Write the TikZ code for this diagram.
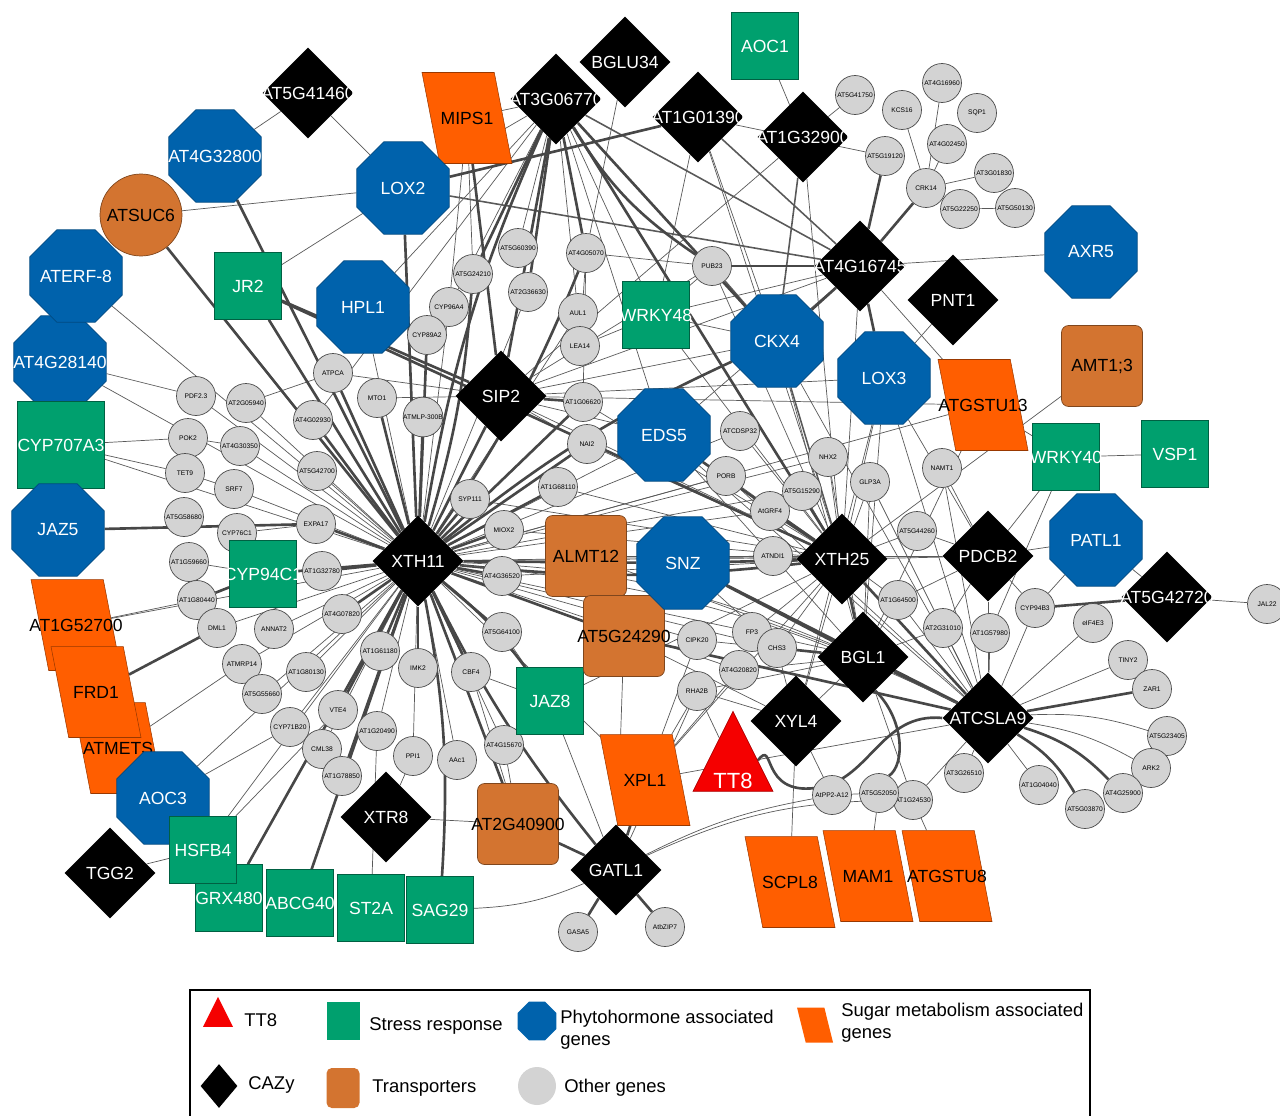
\documentclass[tikz,border=0pt]{standalone}
\usepackage{fontspec}
\setmainfont{Liberation Sans}
\usepackage{xcolor}
\usepackage{tikz}
\usetikzlibrary{shapes.geometric,backgrounds}
\definecolor{hormblue}{RGB}{0,98,172}
\definecolor{stressgreen}{RGB}{0,160,110}
\definecolor{transbrown}{RGB}{211,116,48}
\definecolor{sugarorange}{RGB}{255,94,0}
\definecolor{ttred}{RGB}{245,0,0}
\definecolor{othergrey}{RGB}{211,211,211}
\tikzset{
  biglbl/.style={font=\fontsize{10}{11}\selectfont,inner sep=0pt},
  cazy/.style={diamond,fill=black,minimum size=1.82cm,inner sep=0pt,label={[biglbl,text=white]center:#1}},
  horm/.style={regular polygon,regular polygon sides=8,fill=hormblue,draw=hormblue!75!black,line width=0.4pt,minimum size=2cm,inner sep=0pt,label={[biglbl,text=white]center:#1}},
  stress/.style={rectangle,fill=stressgreen,draw=stressgreen!60!black,line width=0.4pt,minimum size=1.34cm,inner sep=0pt,label={[biglbl,text=white]center:#1}},
  trans/.style={rectangle,rounded corners=4pt,fill=transbrown,draw=transbrown!60!black,line width=0.4pt,minimum size=1.62cm,inner sep=0pt,label={[biglbl]center:#1}},
  sugar/.style={trapezium,trapezium left angle=108,trapezium right angle=72,trapezium stretches=true,fill=sugarorange,draw=sugarorange!60!black,line width=0.3pt,minimum width=1.8cm,minimum height=1.82cm,inner sep=1pt,label={[biglbl]center:#1}},
  other/.style={circle,fill=othergrey,draw=gray!60!black,line width=0.4pt,minimum size=0.78cm,inner sep=0pt,font=\fontsize{3.8}{4}\selectfont},
  lnk/.style={draw=gray!70!black,line width=0.4pt},
  lnkm/.style={draw=black!65,line width=0.9pt},
  lnkt/.style={draw=black!72,line width=1.5pt},
  legtxt/.style={font=\fontsize{10.5}{12.5}\selectfont,anchor=west,align=left,inner sep=0pt},
}
\begin{document}
\begin{tikzpicture}[x=0.02cm,y=-0.02cm]
\useasboundingbox (0,0) rectangle (1280,1115);
% other genes
\node[other] (ATPCA) at (333,373) {ATPCA};
\node[other] (PDF23) at (196,396) {PDF2.3};
\node[other] (AT2G05940) at (246,403) {AT2G05940};
\node[other] (MTO1) at (377,398) {MTO1};
\node[other] (AT4G02930) at (313,420) {AT4G02930};
\node[other] (ATMLP300B) at (423,417) {ATMLP-300B};
\node[other] (POK2) at (188,438) {POK2};
\node[other] (AT4G30350) at (240,446) {AT4G30350};
\node[other] (TET9) at (185,473) {TET9};
\node[other] (AT5G42700) at (317,471) {AT5G42700};
\node[other] (SRF7) at (234,489) {SRF7};
\node[other] (SYP111) at (470,499) {SYP111};
\node[other] (AT5G58680) at (184,517) {AT5G58680};
\node[other] (EXPA17) at (316,524) {EXPA17};
\node[other] (CYP76C1) at (237,533) {CYP76C1};
\node[other] (AT1G59660) at (189,562) {AT1G59660};
\node[other] (AT1G32780) at (322,571) {AT1G32780};
\node[other] (AT1G80440) at (197,600) {AT1G80440};
\node[other] (AT4G07820) at (342,614) {AT4G07820};
\node[other] (DML1) at (217,628) {DML1};
\node[other] (ANNAT2) at (274,629) {ANNAT2};
\node[other] (ATMRP14) at (242,664) {ATMRP14};
\node[other] (AT1G80130) at (306,672) {AT1G80130};
\node[other] (AT1G61180) at (380,651) {AT1G61180};
\node[other] (IMK2) at (418,668) {IMK2};
\node[other] (CBF4) at (471,672) {CBF4};
\node[other] (AT5G64100) at (502,632) {AT5G64100};
\node[other] (AT5G55660) at (262,694) {AT5G55660};
\node[other] (VTE4) at (338,710) {VTE4};
\node[other] (CYP71B20) at (290,727) {CYP71B20};
\node[other] (AT1G20490) at (377,731) {AT1G20490};
\node[other] (CML38) at (322,749) {CML38};
\node[other] (PPI1) at (413,756) {PPI1};
\node[other] (AAc1) at (457,760) {AAc1};
\node[other] (AT4G15670) at (504,745) {AT4G15670};
\node[other] (AT1G78850) at (342,776) {AT1G78850};
\node[other] (AT1G06620) at (583,402) {AT1G06620};
\node[other] (NAI2) at (587,444) {NAI2};
\node[other] (AT1G68110) at (558,487) {AT1G68110};
\node[other] (MIOX2) at (504,530) {MIOX2};
\node[other] (AT4G36520) at (502,576) {AT4G36520};
\node[other] (ATCDSP32) at (740,431) {ATCDSP32};
\node[other] (PORB) at (726,476) {PORB};
\node[other] (AtGRF4) at (770,511) {AtGRF4};
\node[other] (ATNDI1) at (773,556) {ATNDI1};
\node[other] (CIPK20) at (697,640) {CIPK20};
\node[other] (AT5G60390) at (518,248) {AT5G60390};
\node[other] (AT5G24210) at (473,274) {AT5G24210};
\node[other] (AT4G05070) at (586,253) {AT4G05070};
\node[other] (PUB23) at (712,266) {PUB23};
\node[other] (AT2G36630) at (528,292) {AT2G36630};
\node[other] (CYP96A4) at (449,307) {CYP96A4};
\node[other] (CYP89A2) at (427,335) {CYP89A2};
\node[other] (AUL1) at (578,313) {AUL1};
\node[other] (LEA14) at (580,346) {LEA14};
\node[other] (AT5G41750) at (855,95) {AT5G41750};
\node[other] (KCS16) at (902,110) {KCS16};
\node[other] (AT4G16960) at (942,83) {AT4G16960};
\node[other] (SQP1) at (977,113) {SQP1};
\node[other] (AT4G02450) at (947,144) {AT4G02450};
\node[other] (AT5G19120) at (885,156) {AT5G19120};
\node[other] (AT3G01830) at (994,173) {AT3G01830};
\node[other] (CRK14) at (926,188) {CRK14};
\node[other] (AT5G22250) at (960,209) {AT5G22250};
\node[other] (AT5G50130) at (1015,208) {AT5G50130};
\node[other] (NHX2) at (828,457) {NHX2};
\node[other] (GLP3A) at (870,482) {GLP3A};
\node[other] (NAMT1) at (942,468) {NAMT1};
\node[other] (AT5G15290) at (802,491) {AT5G15290};
\node[other] (AT5G44260) at (917,531) {AT5G44260};
\node[other] (AT1G64500) at (898,600) {AT1G64500};
\node[other] (AT2G31010) at (943,628) {AT2G31010};
\node[other] (AT1G57980) at (990,633) {AT1G57980};
\node[other] (CYP94B3) at (1035,608) {CYP94B3};
\node[other] (FP3) at (752,632) {FP3};
\node[other] (CHS3) at (777,648) {CHS3};
\node[other] (eIF4E3) at (1093,623) {eIF4E3};
\node[other] (JAL22) at (1267,604) {JAL22};
\node[other] (TINY2) at (1128,660) {TINY2};
\node[other] (ZAR1) at (1152,689) {ZAR1};
\node[other] (AT5G23405) at (1167,736) {AT5G23405};
\node[other] (ARK2) at (1151,768) {ARK2};
\node[other] (AT4G25900) at (1123,793) {AT4G25900};
\node[other] (AT5G03870) at (1085,809) {AT5G03870};
\node[other] (AT3G26510) at (964,773) {AT3G26510};
\node[other] (AT1G04040) at (1039,785) {AT1G04040};
\node[other] (AT1G24530) at (913,800) {AT1G24530};
\node[other] (AT4G20820) at (739,670) {AT4G20820};
\node[other] (RHA2B) at (697,691) {RHA2B};
\node[other] (AtPP2A12) at (832,795) {AtPP2-A12};
\node[other] (AT5G52050) at (879,793) {AT5G52050};
\node[other] (GASA5) at (578,932) {GASA5};
\node[other] (AtbZIP7) at (665,927) {AtbZIP7};
% sugar metabolism
\node[sugar=ATMETS] (ATMETS) at (118,748) {};
\node[sugar=AT1G52700] (AT1G52700) at (76,625) {};
\node[sugar=FRD1] (FRD1) at (96,692) {};
\node[sugar=MIPS1] (MIPS1) at (467,118) {};
\node[sugar=ATGSTU13] (ATGSTU13) at (983,405) {};
\node[sugar=XPL1] (XPL1) at (645,780) {};
\node[sugar=SCPL8] (SCPL8) at (790,882) {};
\node[sugar=MAM1] (MAM1) at (868,876) {};
\node[sugar=ATGSTU8] (ATGSTU8) at (947,876) {};
% phytohormone
\node[horm=AT4G32800] (AT4G32800) at (215,156) {};
\node[horm=LOX2] (LOX2) at (403,188) {};
\node[horm=AT4G28140] (AT4G28140) at (60,362) {};
\node[horm=ATERF-8] (ATERF8) at (76,276) {};
\node[horm=HPL1] (HPL1) at (363,307) {};
\node[horm=AOC3] (AOC3) at (163,798) {};
\node[horm=CKX4] (CKX4) at (777,341) {};
\node[horm=LOX3] (LOX3) at (884,378) {};
\node[horm=EDS5] (EDS5) at (664,435) {};
\node[horm=AXR5] (AXR5) at (1091,252) {};
\node[horm=PATL1] (PATL1) at (1096,540) {};
% stress response
\node[stress=AOC1] (AOC1) at (765,46) {};
\node[stress=JR2] (JR2) at (248,286) {};
\node[stress=WRKY48] (WRKY48) at (656,315) {};
\node[stress=CYP707A3,minimum size=1.74cm] (CYP707A3) at (61,445) {};
\node[horm=JAZ5] (JAZ5) at (58,530) {};
\node[stress=CYP94C1] (CYP94C1) at (263,574) {};
\node[stress=WRKY40] (WRKY40) at (1066,457) {};
\node[stress=VSP1] (VSP1) at (1175,454) {};
\node[stress=JAZ8] (JAZ8) at (550,701) {};
\node[stress=GRX480] (GRX480) at (229,898) {};
\node[stress=HSFB4] (HSFB4) at (203,850) {};
\node[stress=ABCG40] (ABCG40) at (300,903) {};
\node[stress=ST2A] (ST2A) at (371,908) {};
\node[stress=SAG29] (SAG29) at (440,910) {};
% transporters
\node[trans=ATSUC6,circle,minimum size=1.64cm] (ATSUC6) at (141,215) {};
\node[trans={AMT1;3}] (AMT13) at (1102,366) {};
\node[trans=ALMT12] (ALMT12) at (586,556) {};
\node[trans=AT5G24290] (AT5G24290) at (624,636) {};
\node[horm=SNZ] (SNZ) at (683,563) {};
\node[trans=AT2G40900] (AT2G40900) at (518,824) {};
% CAZy
\node[cazy=AT5G41460] (AT5G41460) at (308,93) {};
\node[cazy=AT3G06770] (AT3G06770) at (556,99) {};
\node[cazy=BGLU34] (BGLU34) at (625,62) {};
\node[cazy=AT1G01390] (AT1G01390) at (698,117) {};
\node[cazy=AT1G32900] (AT1G32900) at (803,137) {};
\node[cazy=AT4G16745] (AT4G16745) at (860,266) {};
\node[cazy=PNT1] (PNT1) at (953,300) {};
\node[cazy=SIP2] (SIP2) at (501,396) {};
\node[cazy=XTH11] (XTH11) at (418,561) {};
\node[cazy=XTH25] (XTH25) at (842,559) {};
\node[cazy=PDCB2] (PDCB2) at (988,556) {};
\node[cazy=AT5G42720] (AT5G42720) at (1167,597) {};
\node[cazy=BGL1] (BGL1) at (863,657) {};
\node[cazy=XYL4] (XYL4) at (796,721) {};
\node[cazy=ATCSLA9] (ATCSLA9) at (988,718) {};
\node[cazy=XTR8] (XTR8) at (386,817) {};
\node[cazy=TGG2] (TGG2) at (110,873) {};
\node[cazy=GATL1] (GATL1) at (616,870) {};
% TT8
\node[isosceles triangle,isosceles triangle stretches,shape border rotate=90,minimum width=1.6cm,minimum height=1.6cm,inner sep=1pt,fill=ttred,draw=ttred!70!black,label={[biglbl,text=white,font=\fontsize{12.5}{13}\selectfont,yshift=-0.28cm]center:TT8}] (TT8) at (733,767) {};
% interactions
\begin{scope}[on background layer]
\foreach \a/\b in {AT5G41460/AT4G32800,AT5G41460/LOX2,ATSUC6/LOX2,ATERF8/XTH11,JR2/LOX2,AOC1/AT1G32900,AT1G32900/AT5G41750,AT1G32900/XTH25,AT1G32900/SIP2,AT1G01390/WRKY48,AT1G01390/CKX4,AT1G01390/XTH25,BGLU34/AT4G05070,AT3G06770/MIPS1,AT3G06770/LOX2,AT3G06770/CYP96A4,AT3G06770/WRKY48,AT3G06770/AUL1,AT3G06770/AT5G60390,AT3G06770/HPL1,AT3G06770/EDS5,MIPS1/AT5G24210,MIPS1/CYP96A4,CRK14/AT4G02450,CRK14/AT3G01830,CRK14/KCS16,CRK14/AT4G16960,CRK14/AT5G22250,AT5G22250/AT5G50130,AT5G19120/AT1G01390,AT4G16745/AXR5,PNT1/LOX3,AT4G16745/ATGSTU13,AT4G16745/WRKY48,AT4G16745/SIP2,AT4G16745/EDS5,AT4G16745/XTH25,PUB23/WRKY48,PUB23/AT4G05070,PUB23/XTH25,PUB23/SIP2,AMT13/XTH25,WRKY40/PDCB2,WRKY40/ATGSTU13,WRKY40/AT1G57980,PATL1/PDCB2,PATL1/CYP94B3,AT5G42720/JAL22,AT5G42720/PATL1,PDCB2/AT5G44260,PDCB2/NAMT1,PDCB2/AT1G64500,PDCB2/CYP94B3,PDCB2/LOX3,PDCB2/AT2G31010,ATCSLA9/eIF4E3,ATCSLA9/TINY2,ATCSLA9/AT3G26510,ATCSLA9/AT1G04040,ATCSLA9/AT1G24530,ATCSLA9/CYP94B3,ATCSLA9/AT2G31010,ATCSLA9/AT1G57980,ATCSLA9/AT1G64500,ATCSLA9/PDCB2,ATCSLA9/NAMT1,ATCSLA9/GLP3A,ATCSLA9/PORB,XTH25/NHX2,XTH25/GLP3A,XTH25/AT5G15290,XTH25/ATNDI1,XTH25/PORB,XTH25/ATCDSP32,XTH25/AT5G44260,XTH25/AT1G64500,XTH25/FP3,XTH25/CHS3,XTH25/XYL4,XTH25/LOX3,XTH25/NAI2,XTH25/AT1G06620,XTH25/MIOX2,XTH25/SYP111,XTH25/AT1G68110,XTH25/AT4G36520,BGL1/FP3,BGL1/AT4G20820,BGL1/CIPK20,BGL1/RHA2B,BGL1/AT2G31010,BGL1/AT1G24530,BGL1/XYL4,BGL1/ALMT12,BGL1/EDS5,BGL1/AT1G64500,BGL1/LOX3,BGL1/NHX2,XYL4/SCPL8,XYL4/AtPP2A12,XYL4/RHA2B,XYL4/CHS3,XYL4/AT5G24290,XPL1/CIPK20,XPL1/XTH25,XPL1/AT4G20820,XPL1/ATCSLA9,XPL1/XTH11,XPL1/RHA2B,MAM1/AT5G52050,ATGSTU8/AT1G24530,GATL1/JAZ8,GATL1/AT5G24290,GATL1/RHA2B,JAZ8/AT5G64100,JAZ8/CBF4,JAZ8/XTH25,AT2G40900/CBF4,AT2G40900/AT4G15670,XTR8/PPI1,XTR8/AT2G40900,ST2A/AT1G20490,HSFB4/VTE4,HSFB4/XTH11,TGG2/HSFB4,AOC3/CYP71B20,AOC3/XTH11,AT1G52700/AT1G80440,AT1G52700/XTH11,ATMETS/ATMRP14,CYP707A3/TET9,CYP707A3/POK2,CYP707A3/XTH11,AT4G28140/XTH11,AT4G28140/PDF23,PDF23/XTH11,AT2G05940/XTH11,AT2G05940/ATPCA,AT4G30350/XTH11,POK2/AT4G30350,TET9/SRF7,SRF7/XTH11,CYP76C1/EXPA17,AT1G59660/CYP94C1,ANNAT2/XTH11,ATMRP14/XTH11,AT1G80130/XTH11,AT5G55660/XTH11,CYP71B20/XTH11,CML38/XTH11,AT1G20490/XTH11,PPI1/XTH11,AAc1/XTH11,AT4G15670/XTH11,AT5G42700/XTH11,DML1/XTH11,HPL1/CYP89A2,HPL1/XTH11,CYP96A4/XTH11,AT2G36630/XTH11,AUL1/XTH11,LEA14/AT4G05070,ATPCA/SIP2,MTO1/SIP2,AT4G02930/AT3G06770,SIP2/NAI2,SIP2/EDS5,SIP2/CKX4,SIP2/LOX3,SIP2/XTH25,SIP2/ATGSTU13,AT1G06620/AT4G05070,WRKY48/LEA14,WRKY48/CKX4,WRKY48/XTH25,CKX4/ATCSLA9,CKX4/BGL1,LOX3/ATCSLA9,LOX3/XYL4,ATGSTU13/XTH11,ATGSTU13/BGL1,NHX2/XTH11,GLP3A/BGL1,AtGRF4/XTH11,ATNDI1/XTH11,EDS5/XTH11,EDS5/ATCSLA9,XTH11/PORB,XTH11/ATCDSP32,XTH11/AT5G15290,XTH11/CHS3,XTH11/FP3,XTH11/CIPK20,XTH11/AT4G20820,XTH11/PDCB2,ALMT12/XTH25,ALMT12/PDCB2,SNZ/PDCB2,SNZ/CHS3,TT8/RHA2B,AtPP2A12/AT5G52050,AT1G24530/AT5G52050,VSP1/WRKY40}
  \draw[lnk] (\a) -- (\b);
\foreach \a/\b in {LOX2/AT4G16745,AT1G01390/AT4G16745,AT1G32900/CKX4,PUB23/CKX4,CKX4/XTH25,AT4G16745/AT3G06770}
  \draw[lnkm] (\a) -- (\b);
\foreach \a/\b in {XTH11/AT4G32800,XTH11/ATSUC6,XTH11/JR2,XTH11/LOX2,XTH11/ATPCA,XTH11/AT4G02930,XTH11/MTO1,XTH11/ATMLP300B,XTH11/EXPA17,XTH11/AT1G32780,XTH11/AT4G07820,XTH11/AT1G61180,XTH11/IMK2,XTH11/CBF4,XTH11/AT5G64100,XTH11/VTE4,XTH11/ABCG40,XTH11/GRX480,XTH11/AT2G40900,XTH11/SYP111,XTH11/MIOX2,XTH11/AT4G36520,XTH11/AT1G68110,XTH11/NAI2,XTH11/AT1G06620,XTH11/SIP2,XTH11/AT1G78850,XTH11/CYP89A2,XTH11/CYP94C1,XTH11/SNZ,XTH11/AT5G24290,AT3G06770/SIP2,AT3G06770/AT5G24210,AT3G06770/AT4G05070,AT3G06770/AT2G36630,AT3G06770/CKX4,AT3G06770/XTH25,MIPS1/SIP2,LOX2/AT1G01390,JR2/SIP2,JR2/XTH25,AT4G16745/PUB23,AT4G16745/CRK14,AT4G16745/AT5G19120,AT4G16745/CKX4,AT4G16745/LOX3,XTH25/BGL1,XTH25/ATCSLA9,XTH25/SNZ,XTH25/EDS5,XTH25/AtGRF4,BGL1/ATCSLA9,BGL1/SNZ,BGL1/CHS3,ATCSLA9/ZAR1,ATCSLA9/SNZ,ATCSLA9/AT5G24290,AT5G42720/CYP94B3,GATL1/AT2G40900,GATL1/XPL1,GATL1/GASA5,GATL1/AtbZIP7,SIP2/AT1G06620,FRD1/DML1,AT1G80440/CYP94C1,JAZ5/EXPA17}
  \draw[lnkt] (\a) -- (\b);
\foreach \a/\b in {XTH11/AT3G06770,XTH11/CKX4,XTH11/SAG29,XTH11/JAZ8}
  \draw[lnkt] (\a) to[bend left=7] (\b);
\foreach \a/\b in {XTH11/AT5G24210,XTH11/AT4G05070,XTH11/GATL1,XTH11/XTH25}
  \draw[lnkt] (\a) to[bend right=6] (\b);
\foreach \a/\b in {ATCSLA9/AT5G23405,ATCSLA9/ARK2,XTH11/BGL1,XTH11/ATCSLA9,GATL1/SAG29}
  \draw[lnk] (\a) to[bend left=10] (\b);
\draw[lnk] (GATL1) to[bend left=12] (AT1G24530);
\draw[lnk] (GATL1) to[bend left=8] (AtPP2A12);
\draw[lnkt] (AT3G06770) to[bend right=12] (PUB23);
\draw[lnkt] (ATCSLA9) to[bend left=14] (AT4G25900);
\draw[lnkt] (ATCSLA9) to[bend left=14] (AT5G03870);
\draw[lnkt] (BGL1.-70) .. controls (905,720) and (905,765) .. (AT5G52050.60);
\draw[lnkt] (TT8.15) .. controls (775,738) and (760,795) .. (815,788) .. controls (870,782) and (880,712) .. (ATCSLA9.west);
\end{scope}
% legend
\draw[line width=1.4pt] (190,990) rectangle (1090,1140);
\node[isosceles triangle,isosceles triangle stretches,shape border rotate=90,minimum width=0.6cm,minimum height=0.6cm,inner sep=1pt,fill=ttred] (legTT8) at (218,1018) {};
\node[legtxt] (legTT8txt) at (244,1020) {TT8};
\node[rectangle,fill=stressgreen,minimum width=0.66cm,minimum height=0.76cm,inner sep=0pt] (legStress) at (343,1021) {};
\node[legtxt] (legStresstxt) at (369,1026) {Stress response};
\node[regular polygon,regular polygon sides=8,fill=hormblue,minimum size=0.84cm,inner sep=0pt] (legHorm) at (537,1021) {};
\node[legtxt,anchor=north west] (legHormtxt) at (560,1010) {Phytohormone associated\\genes};
\node[trapezium,trapezium left angle=115,trapezium right angle=65,trapezium stretches=true,fill=sugarorange,minimum width=0.72cm,minimum height=0.7cm,inner sep=1pt] (legSugar) at (815,1025) {};
\node[legtxt,anchor=north west] (legSugartxt) at (841,1003) {Sugar metabolism associated\\genes};
\node[diamond,fill=black,minimum width=0.74cm,minimum height=0.88cm,inner sep=0pt] (legCazy) at (219,1086) {};
\node[legtxt] (legCazytxt) at (248,1085) {CAZy};
\node[rectangle,rounded corners=3pt,fill=transbrown,minimum width=0.66cm,minimum height=0.8cm,inner sep=0pt] (legTrans) at (343,1088) {};
\node[legtxt] (legTranstxt) at (372,1088) {Transporters};
\node[circle,fill=othergrey,minimum size=0.76cm,inner sep=0pt] (legOther) at (537,1086) {};
\node[legtxt] (legOthertxt) at (564,1088) {Other genes};
\end{tikzpicture}
\end{document}
